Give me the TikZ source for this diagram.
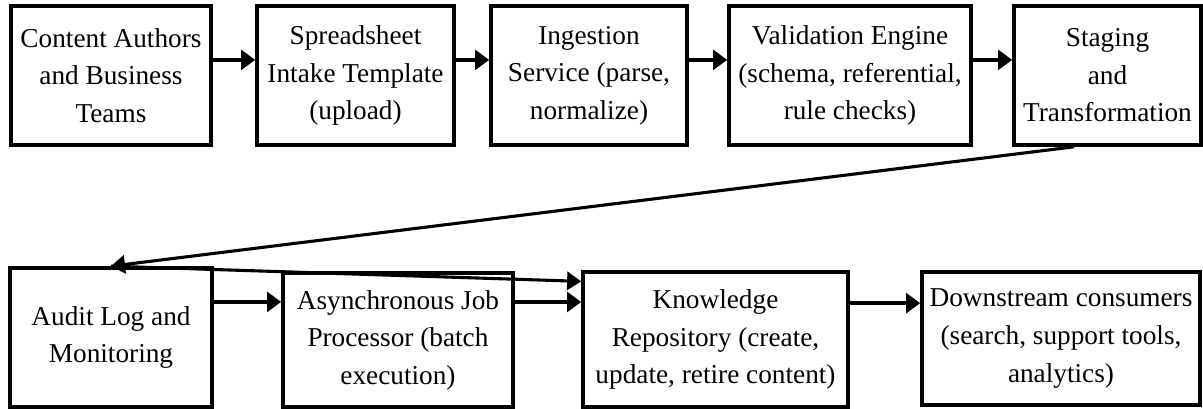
\documentclass[tikz,border=0pt]{standalone}
\usepackage{fontspec}
\setmainfont{Liberation Serif}
\usetikzlibrary{arrows.meta}

\begin{document}
\begin{tikzpicture}[
    box/.style={draw, line width=2.6pt, align=center, inner sep=0pt,
        font=\fontsize{19.4}{26.7}\selectfont},
    flow/.style={line width=2.6pt, -{Triangle[length=10pt,width=14pt]}},
    long flow/.style={line width=2.2pt, -{Triangle[length=10pt,width=13pt]}}
]
    \useasboundingbox (0,0) rectangle (30.075,-10.225);
    % top row
    \node[box, minimum width=5cm, minimum height=3.475cm] (authors) at (2.775,-1.8875) {Content Authors\\and Business\\Teams};
    \node[box, minimum width=4.925cm, minimum height=3.475cm] (sheet) at (8.8875,-1.8875) {Spreadsheet\\Intake Template\\(upload)};
    \node[box, minimum width=4.9cm, minimum height=3.475cm] (ingest) at (14.725,-1.8875) {Ingestion\\Service (parse,\\normalize)};
    \node[box, minimum width=6.05cm, minimum height=3.475cm] (valid) at (21.25,-1.8875) {Validation Engine\\(schema, referential,\\rule checks)};
    \node[box, minimum width=4.675cm, minimum height=3.475cm] (staging) at (27.6875,-1.8875) {Staging\\and\\Transformation};
    % bottom row
    \node[box, minimum width=5.05cm, minimum height=3.475cm] (audit) at (2.775,-8.4375) {Audit Log and\\Monitoring};
    \node[box, minimum width=5.75cm, minimum height=3.35cm] (async) at (9.95,-8.5) {Asynchronous Job\\Processor (batch\\execution)};
    \node[box, minimum width=6.625cm, minimum height=3.375cm] (repo) at (17.8875,-8.4875) {Knowledge\\Repository (create,\\update, retire content)};
    \node[box, minimum width=6.95cm, minimum height=3.325cm] (down) at (26.525,-8.4625) {Downstream consumers\\(search, support tools,\\analytics)};
    % top arrows
    \draw[flow] ([yshift=0.39cm]authors.east) -- ([yshift=0.39cm]authors.east -| sheet.west);
    \draw[flow] ([yshift=0.39cm]sheet.east) -- ([yshift=0.39cm]sheet.east -| ingest.west);
    \draw[flow] ([yshift=0.39cm]ingest.east) -- ([yshift=0.39cm]ingest.east -| valid.west);
    \draw[flow] ([yshift=0.39cm]valid.east) -- ([yshift=0.39cm]valid.east -| staging.west);
    % back to the second row
    \draw[long flow] ([xshift=-0.84cm]staging.south) -- (audit.north);
    \draw[long flow] (audit.north) -- ([yshift=-0.28cm]repo.north west);
    % bottom arrows
    \draw[flow] ([yshift=0.89cm]audit.east) -- ([yshift=0.89cm]audit.east -| async.west);
    \draw[flow] ([yshift=0.95cm]async.east) -- ([yshift=0.95cm]async.east -| repo.west);
    \draw[flow] ([yshift=0.91cm]repo.east) -- ([yshift=0.91cm]repo.east -| down.west);
\end{tikzpicture}
\end{document}
